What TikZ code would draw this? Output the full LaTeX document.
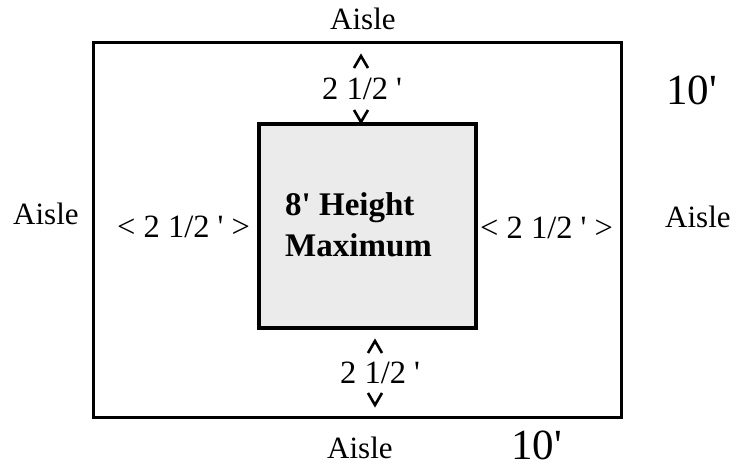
\documentclass[tikz,border=0pt]{standalone}
\usepackage{fontspec}
\setmainfont{Liberation Serif}[Ligatures=TeXOff]
\usetikzlibrary{positioning}
\tikzstyle{booth} = [draw=black, line width=3.5pt, fill=black!8]
\tikzstyle{space} = [draw=black, line width=3pt]
\tikzstyle{label} = [inner sep=0pt, anchor=base west, font=\fontsize{31}{36}\selectfont]
\tikzstyle{gap} = [inner sep=0pt, anchor=base west, font=\fontsize{32.5}{38}\selectfont]
\tikzstyle{size} = [inner sep=0pt, anchor=base west, font=\fontsize{43}{48}\selectfont]
\tikzstyle{chev} = [line width=2.6pt, line join=miter]

\begin{document}
\begin{tikzpicture}[x=1pt, y=-1pt]
\useasboundingbox (0,0) rectangle (737,468);

\draw[space] (93,43) rectangle (621,417);
\draw[booth] (259,124) rectangle (476,328);

\node(height)  [label, font=\fontsize{33}{38}\selectfont\bfseries] at (285,216) {8' Height};
\node(maximum) [label, font=\fontsize{33}{38}\selectfont\bfseries] at (285,257) {Maximum};

\node(aisletop)    [label] at (330,30)  {Aisle};
\node(aisleleft)   [label] at (13,225)  {Aisle};
\node(aisleright)  [label] at (665,227) {Aisle};
\node(aislebottom) [label] at (327,458) {Aisle};

\node(sizetop)    [size] at (666,105) {10'};
\node(sizebottom) [size] at (511,459) {10'};

\node(gaptop)    [gap] at (322,100) {2 1/2 '};
\node(gapbottom) [gap] at (340,383) {2 1/2 '};
\node(gapleft)   [gap] at (117,237) {< 2 1/2 ' >};
\node(gapright)  [gap] at (480,238) {< 2 1/2 ' >};

% chevrons above and below the depth labels
\draw[chev] (354,68) -- (361,56) -- (368,68);
\draw[chev] (354,110) -- (361,122) -- (368,110);
\draw[chev] (368,353) -- (375,341) -- (382,353);
\draw[chev] (368,393) -- (375,405) -- (382,393);

\end{tikzpicture}
\end{document}
